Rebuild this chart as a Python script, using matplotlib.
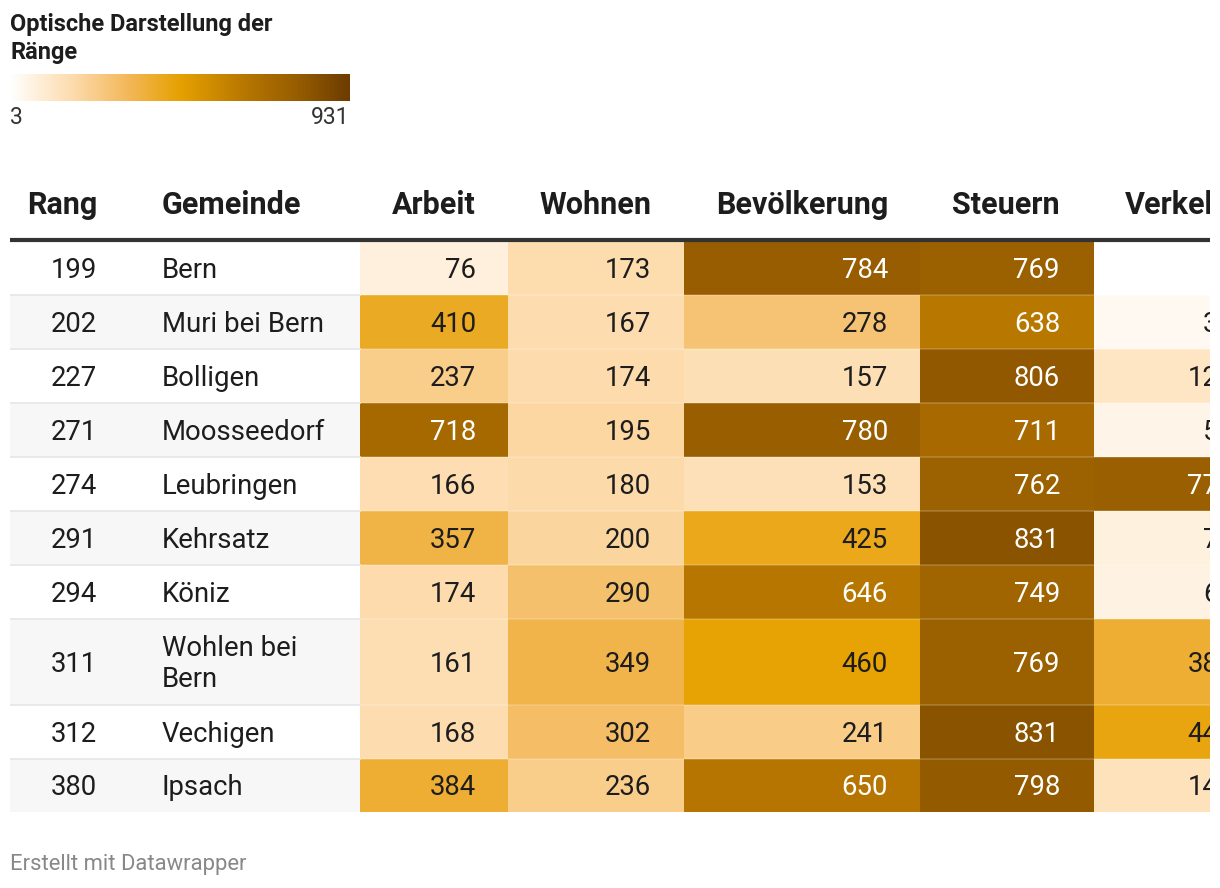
import numpy as np
import matplotlib
matplotlib.use("Agg")
import matplotlib.pyplot as plt
from matplotlib.colors import LinearSegmentedColormap, Normalize
from matplotlib.patches import Rectangle

plt.rcParams['font.family'] = ['Roboto', 'DejaVu Sans']

# Daten
rang = [199, 202, 227, 271, 274, 291, 294, 311, 312, 380]
gemeinde = ["Bern", "Muri bei Bern", "Bolligen", "Moosseedorf", "Leubringen",
            "Kehrsatz", "Köniz", "Wohlen bei\nBern", "Vechigen", "Ipsach"]
arbeit = [76, 410, 237, 718, 166, 357, 174, 161, 168, 384]
wohnen = [173, 167, 174, 195, 180, 200, 290, 349, 302, 236]
bevoelkerung = [784, 278, 157, 780, 153, 425, 646, 460, 241, 650]
steuern = [769, 638, 806, 711, 762, 831, 749, 769, 831, 798]
verkehr = [3, 35, 124, 52, 775, 72, 64, 385, 445, 142]
headers = ["Rang", "Gemeinde", "Arbeit", "Wohnen", "Bevölkerung", "Steuern", "Verkehr"]
legend_title = ["Optische Darstellung der", "Ränge"]
vmin, vmax = 3, 931

# Farbskala
cmap = LinearSegmentedColormap.from_list("raenge", [
    (0.0, "#ffffff"), (0.18, "#fddcae"), (0.35, "#f3b757"), (0.5, "#e6a100"),
    (0.7, "#b57500"), (0.85, "#965c00"), (1.0, "#6c3c00")])
norm = Normalize(vmin, vmax)

W, H = 1220, 888
fig = plt.figure(figsize=(W / 100, H / 100), dpi=100)
ax = fig.add_axes([10 / W, 0, 1200 / W, 1])
ax.set_xlim(10, 1210)
ax.set_ylim(H, 0)
ax.axis("off")

dark = "#1d1d1d"

# Legende
for k, line in enumerate(legend_title):
    ax.text(10, 25 + 27 * k, line, fontsize=17, fontweight="bold", color=dark,
            va="center", ha="left")
grad = np.linspace(vmin, vmax, 256).reshape(1, -1)
ax.imshow(grad, cmap=cmap, norm=norm, extent=[10, 350, 101, 74], aspect="auto")
ax.text(10, 117, str(vmin), fontsize=16.5, color="#333333", va="center", ha="left")
ax.text(349, 117, str(vmax), fontsize=16.5, color="#333333", va="center", ha="right")

# Tabellengeometrie
col_edges = [10, 135, 360, 508, 684, 920, 1094, 1272]
num_right = [476, 651, 888, 1060, 1234]
row_heights = [54, 54, 54, 54, 54, 54, 54, 86, 54, 53]
row_top = np.concatenate([[241], 241 + np.cumsum(row_heights)[:-1]])
fs = 19.8
hfs = 22
dy = 2

# Kopfzeile
ax.text(97, 205, headers[0], fontsize=hfs, fontweight="bold", color=dark,
        ha="right", va="center")
ax.text(162, 205, headers[1], fontsize=hfs, fontweight="bold", color=dark,
        ha="left", va="center")
for j, h in enumerate(headers[2:]):
    ax.text(num_right[j], 205, h, fontsize=hfs, fontweight="bold", color=dark,
            ha="right", va="center", clip_on=True)

values = [arbeit, wohnen, bevoelkerung, steuern, verkehr]
for i in range(len(rang)):
    top = row_top[i]
    hgt = row_heights[i]
    yc = top + hgt / 2 + dy
    if i % 2 == 1:
        ax.add_patch(Rectangle((10, top), 350, hgt, facecolor="#f7f7f7", edgecolor="none"))
    for j, col in enumerate(values):
        v = col[i]
        x0, x1 = col_edges[j + 2], col_edges[j + 3]
        ax.add_patch(Rectangle((x0, top), x1 - x0, hgt, facecolor=cmap(norm(v)),
                               edgecolor="none"))
        tc = "white" if norm(v) > 0.6 else dark
        ax.text(num_right[j], yc, str(v), fontsize=fs, color=tc, ha="right",
                va="center", clip_on=True)
    ax.text(97, yc, str(rang[i]), fontsize=fs, color=dark, ha="right", va="center")
    ax.text(162, yc, gemeinde[i], fontsize=fs, color=dark, ha="left", va="center",
            linespacing=1.15)
    if i > 0:
        ax.plot([10, 360], [top, top], color="#e6e6e6", lw=1.2)
        ax.plot([360, 1272], [top, top], color="white", alpha=0.2, lw=1.2)

ax.plot([10, 1272], [240, 240], color="#333333", lw=3, solid_capstyle="butt")

# Quelle
ax.text(10, 864, "Erstellt mit Datawrapper", fontsize=15.8, color="#888888",
        ha="left", va="center")

fig.savefig("out.png", dpi=100, facecolor="white")
